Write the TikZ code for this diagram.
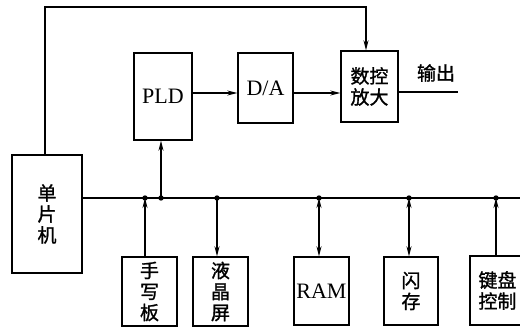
\documentclass[tikz,border=0pt]{standalone}
\usepackage{fontspec}
\setmainfont{Liberation Serif}
\newfontfamily\cjk[AutoFakeBold=1.2]{Noto Sans CJK SC}
\usetikzlibrary{arrows.meta,calc}
\begin{document}
\begin{tikzpicture}[x=1pt,y=-1pt,
  box/.style={draw,line width=1.4pt,inner sep=0pt,align=center},
  lat/.style={font=\fontsize{22}{24}\selectfont},
  zh/.style={font=\cjk\bfseries\fontsize{19}{21}\selectfont},
  wire/.style={line width=1.3pt},
  arr/.style={wire,-{Stealth[length=10pt,width=5pt]}},
  darr/.style={wire,{Stealth[length=10pt,width=5pt]}-{Stealth[length=10pt,width=5pt]}},
  dot/.style={fill=black}]
\useasboundingbox (0,0) rectangle (520,329);
\clip (0,0) rectangle (520,329);
% blocks
\node[box,zh,minimum width=70pt,minimum height=118pt] (mcu) at (47,214) {单\\片\\机};
\node[box,lat,minimum width=58pt,minimum height=87pt] (pld) at (163,96.5) {PLD};
\node[box,lat,minimum width=55pt,minimum height=70pt] (da) at (265.5,88) {D/A};
\node[box,zh,minimum width=57pt,minimum height=71pt] (amp) at (369.5,86.5) {数控\\放大};
\node[box,zh,minimum width=55pt,minimum height=69pt] (hw) at (149.5,291.5) {手\\写\\板};
\node[box,zh,minimum width=55pt,minimum height=69pt] (lcd) at (220.5,291.5) {液\\晶\\屏};
\node[box,lat,minimum width=55pt,minimum height=68pt] (ram) at (321.5,291) {RAM};
\node[box,zh,minimum width=54pt,minimum height=68pt] (flash) at (411,291) {闪\\存};
\node[box,zh,minimum width=55pt,minimum height=69pt] (kb) at (497.5,290.5) {键盘\\控制};
\node[zh,inner sep=0pt] (outlbl) at (436,73) {输出};
% coordinates
\coordinate (topL) at (45,7);
\coordinate (topR) at (366,7);
\coordinate (busEnd) at (520,198);
\coordinate (outEnd) at (458,92);
\coordinate (t1) at (145,198);
\coordinate (t2) at (161,198);
\coordinate (t3) at (217,198);
\coordinate (t4) at (319,198);
\coordinate (t5) at (409,198);
\coordinate (t6) at (496,198);
% feedback line from MCU to amplifier
\draw[arr] (mcu.north -| topL) -- (topL) -- (topR) -- (amp.north -| topR);
% signal chain
\draw[arr] (pld.east |- 0,93) -- (da.west |- 0,93);
\draw[arr] (da.east |- 0,93) -- (amp.west |- 0,93);
\draw[wire] (amp.east |- outEnd) -- (outEnd);
% bus
\draw[wire] (mcu.east |- busEnd) -- (busEnd);
\draw[arr] (t2) -- (pld.south -| t2);
\draw[arr] (hw.north -| t1) -- (t1);
\draw[arr] (t3) -- (lcd.north -| t3);
\draw[darr] (t4) -- (ram.north -| t4);
\draw[darr] (t5) -- (flash.north -| t5);
\draw[arr] (kb.north -| t6) -- (t6);
\foreach \t in {t1,t2,t3,t4,t5,t6} \fill[dot] (\t) circle (2.7pt);
\end{tikzpicture}
\end{document}
